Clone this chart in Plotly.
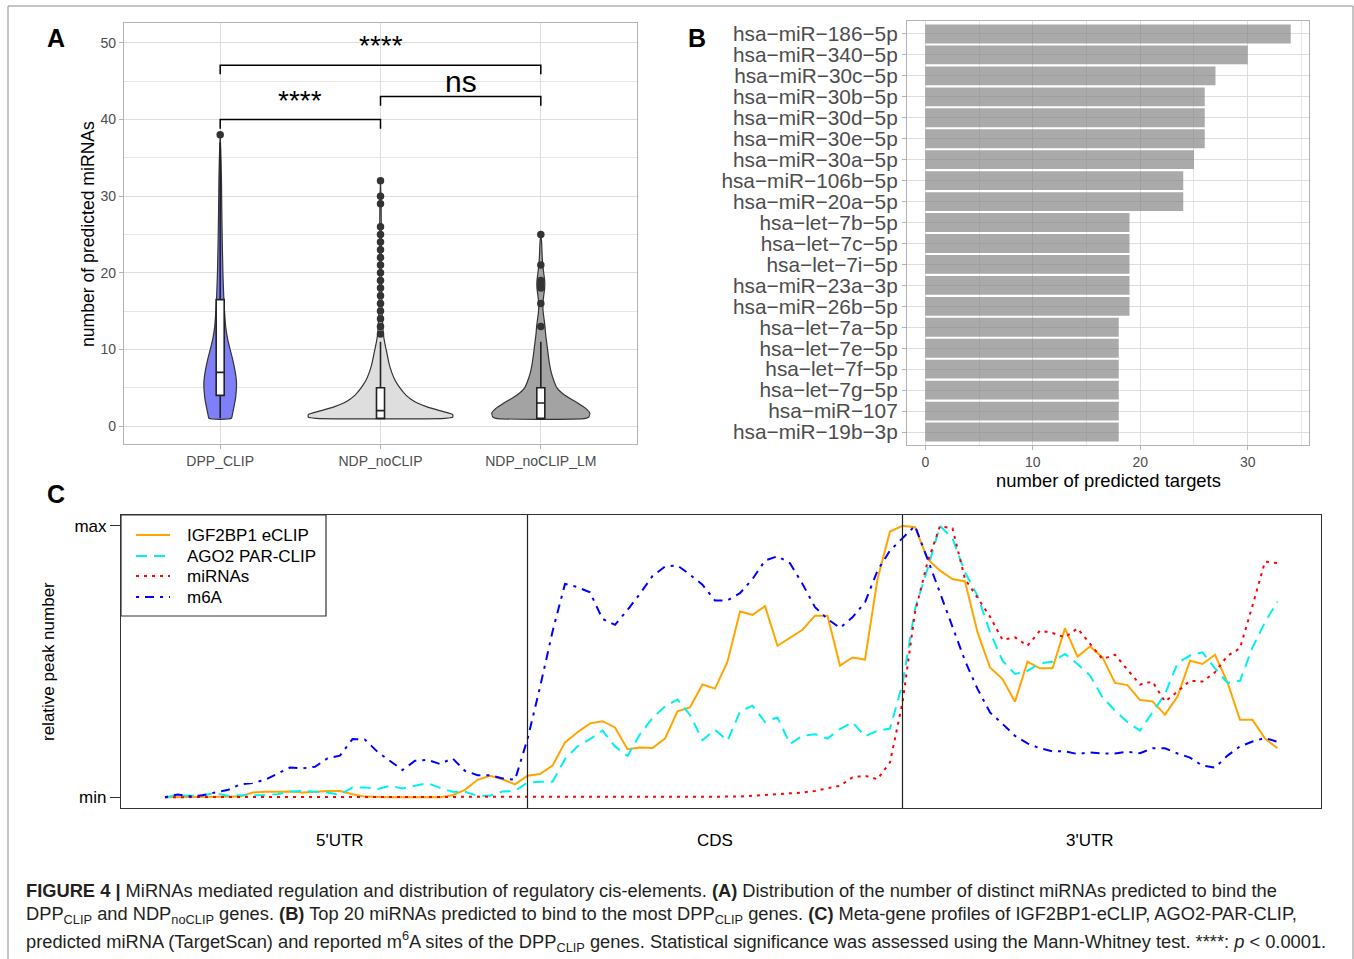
import plotly.graph_objects as go

W, H = 1354, 959
def px(x): return x / W
def py(y): return 1 - y / H

FONT = "Liberation Sans, Arial, Helvetica, sans-serif"
GREY30 = "#4D4D4D"
GRID = "#DEDEDE"
BORDER = "#B3B3B3"

# ---------------- Panel A data ----------------
groups = ["DPP_CLIP", "NDP_noCLIP", "NDP_noCLIP_LM"]
group_pos = [1, 2, 3]
violin_fill = ["#7F7FF7", "#DEDEDE", "#A3A3A3"]

dpp_levels = [1, 1.5, 2.5, 3.5, 4.5, 5.5, 6.5, 7.5, 8.5, 9.5, 10.5, 11.5, 13, 15, 17, 20, 24, 28, 32, 35, 38]
dpp_halfw = [0.07, 0.076, 0.086, 0.095, 0.1, 0.102, 0.098, 0.09, 0.08, 0.068, 0.056, 0.045, 0.034, 0.027, 0.022, 0.017, 0.013, 0.01, 0.008, 0.005, 0.0]

noclip_levels = [1, 1.15, 1.5, 2, 2.5, 3, 3.5, 4, 5, 6, 7, 8, 9, 10, 11, 12, 14, 17, 20, 25, 29, 32]
noclip_halfw = [0.40, 0.45, 0.45, 0.37, 0.29, 0.23, 0.19, 0.16, 0.12, 0.09, 0.07, 0.055, 0.045, 0.035, 0.025, 0.018, 0.012, 0.008, 0.006, 0.005, 0.004, 0.0]

lm_levels = [1, 1.2, 1.7, 2.3, 3, 3.5, 4, 5, 6, 7, 8, 9, 10, 11, 12, 13, 14, 15, 16, 17, 18, 19, 20, 21, 22, 23, 24, 25]
lm_halfw = [0.28, 0.30, 0.305, 0.28, 0.23, 0.19, 0.15, 0.10, 0.08, 0.065, 0.055, 0.048, 0.042, 0.036, 0.03, 0.026, 0.02, 0.014, 0.013, 0.018, 0.024, 0.024, 0.018, 0.012, 0.009, 0.007, 0.005, 0.0]

box_q1 = [4, 1, 1]
box_median = [7, 2, 3]
box_q3 = [16.5, 5, 5]
box_low = [1, 1, 1]
box_high = [37, 11, 11]

out_dpp = [38]
out_noclip = [12, 13, 14, 15, 16, 17, 18, 19, 20, 21, 22, 23, 24, 25, 26, 29, 30, 32]
out_lm = [13, 16, 18, 18.5, 19, 21, 25]

bracket_from = [1, 2, 1]
bracket_to = [2, 3, 3]
bracket_y = [40.0, 43.0, 47.1]
bracket_label = ["****", "ns", "****"]
bracket_label_y = [42.5, 45.0, 49.6]

# ---------------- Panel B data ----------------
mirnas = ["hsa−miR−186−5p", "hsa−miR−340−5p", "hsa−miR−30c−5p", "hsa−miR−30b−5p",
          "hsa−miR−30d−5p", "hsa−miR−30e−5p", "hsa−miR−30a−5p", "hsa−miR−106b−5p",
          "hsa−miR−20a−5p", "hsa−let−7b−5p", "hsa−let−7c−5p", "hsa−let−7i−5p",
          "hsa−miR−23a−3p", "hsa−miR−26b−5p", "hsa−let−7a−5p", "hsa−let−7e−5p",
          "hsa−let−7f−5p", "hsa−let−7g−5p", "hsa−miR−107", "hsa−miR−19b−3p"]
targets = [34, 30, 27, 26, 26, 26, 25, 24, 24, 19, 19, 19, 19, 19, 18, 18, 18, 18, 18, 18]

# ---------------- Panel C data ----------------
bins = list(range(1, 91))
igf2bp1 = [0, 0, 0, 0, 0, 0, 0.002, 0.017, 0.02, 0.02, 0.021, 0.017, 0.021, 0.023, 0.023, 0.011,
           0.002, 0, 0, 0, 0, 0, 0, 0.007, 0.027, 0.064, 0.079, 0.066, 0.047, 0.079,
           0.085, 0.116, 0.202, 0.239, 0.272, 0.28, 0.257, 0.177, 0.183, 0.181, 0.216, 0.316,
           0.331, 0.415, 0.40, 0.499, 0.684, 0.672, 0.704, 0.558, 0.589, 0.617, 0.669, 0.669,
           0.485, 0.515, 0.507, 0.804, 0.979, 1.0, 0.995, 0.878, 0.835, 0.804, 0.795, 0.608,
           0.478, 0.435, 0.352, 0.499, 0.475, 0.475, 0.622, 0.518, 0.555, 0.515, 0.421, 0.413,
           0.358, 0.353, 0.304, 0.371, 0.503, 0.491, 0.525, 0.423, 0.285, 0.285, 0.216, 0.18]
ago2 = [0, 0.007, 0.005, 0.007, 0.015, 0.005, 0.007, 0.007, 0.007, 0.011, 0.021, 0.023, 0.021,
        0.017, 0.009, 0.036, 0.036, 0.03, 0.042, 0.032, 0.042, 0.052, 0.034, 0.02, 0.02, 0.005,
        0.005, 0.021, 0.023, 0.054, 0.057, 0.057, 0.14, 0.187, 0.214, 0.245, 0.187, 0.152,
        0.232, 0.292, 0.334, 0.36, 0.303, 0.21, 0.248, 0.208, 0.315, 0.337, 0.277, 0.294,
        0.196, 0.226, 0.232, 0.216, 0.251, 0.276, 0.224, 0.245, 0.253, 0.417, 0.694, 0.841,
        1.0, 0.954, 0.829, 0.743, 0.608, 0.503, 0.454, 0.466, 0.493, 0.499, 0.528, 0.491,
        0.448, 0.368, 0.319, 0.276, 0.245, 0.312, 0.38, 0.494, 0.522, 0.534, 0.475, 0.421,
        0.429, 0.552, 0.645, 0.721]
mirna_sites = [0] * 46 + [0.002, 0.005, 0.007, 0.011, 0.014, 0.017, 0.023, 0.032, 0.042, 0.073,
               0.079, 0.066, 0.128, 0.349, 0.681, 0.866, 0.999, 0.991, 0.804, 0.735, 0.665,
               0.58, 0.589, 0.558, 0.614, 0.605, 0.589, 0.622, 0.565, 0.509, 0.525, 0.472,
               0.415, 0.426, 0.352, 0.389, 0.429, 0.426, 0.46, 0.521, 0.549, 0.706, 0.868, 0.863]
m6a = [0, 0.01, 0.003, 0.007, 0.017, 0.026, 0.047, 0.052, 0.064, 0.085, 0.109, 0.106, 0.112,
       0.143, 0.153, 0.214, 0.212, 0.167, 0.134, 0.100, 0.134, 0.138, 0.122, 0.143, 0.097,
       0.081, 0.081, 0.069, 0.064, 0.214, 0.405, 0.61, 0.786, 0.774, 0.755, 0.657, 0.635,
       0.69, 0.75, 0.815, 0.85, 0.854, 0.82, 0.783, 0.725, 0.725, 0.752, 0.804, 0.872, 0.888,
       0.862, 0.786, 0.70, 0.657, 0.624, 0.663, 0.718, 0.835, 0.909, 0.954, 1.0, 0.878,
       0.755, 0.632, 0.503, 0.399, 0.312, 0.27, 0.226, 0.198, 0.18, 0.169, 0.169, 0.159,
       0.165, 0.161, 0.161, 0.167, 0.162, 0.18, 0.18, 0.161, 0.146, 0.116, 0.109, 0.153,
       0.187, 0.205, 0.218, 0.204]

series_names = ["IGF2BP1 eCLIP", "AGO2 PAR-CLIP", "miRNAs", "m6A"]
series_colors = ["#FFA500", "#00F0F0", "#FF0000", "#0000FF"]
series_dash = ["solid", "11px,7px", "3px,5px", "3px,6px,9px,6px"]
region_names = ["5'UTR", "CDS", "3'UTR"]
region_centers = [15, 45, 75]
region_bounds = [30, 60]

fig = go.Figure()

# ---------------- Panel A traces ----------------
profiles = [(dpp_levels, dpp_halfw), (noclip_levels, noclip_halfw), (lm_levels, lm_halfw)]
for pos, (lv, hw), col in zip(group_pos, profiles, violin_fill):
    xs = [pos + w for w in hw] + [pos - w for w in reversed(hw)] + [pos + hw[0]]
    ys = list(lv) + list(reversed(lv)) + [lv[0]]
    fig.add_trace(go.Scatter(x=xs, y=ys, mode="lines", fill="toself", fillcolor=col,
                             line=dict(color="#333333", width=1.2, shape="spline", smoothing=0.6),
                             xaxis="x", yaxis="y", showlegend=False, hoverinfo="skip"))

# boxes + outliers on an overlaid copy of panel A's axes so they sit above the violins
fig.add_trace(go.Box(x=group_pos, q1=box_q1, median=box_median, q3=box_q3,
                     lowerfence=box_low, upperfence=box_high, width=0.05,
                     fillcolor="white", line=dict(color="#222222", width=1.6),
                     whiskerwidth=0, boxpoints=False, xaxis="x4", yaxis="y4", showlegend=False))

outs = [out_dpp, out_noclip, out_lm]
for pos, o in zip(group_pos, outs):
    fig.add_trace(go.Scatter(x=[pos] * len(o), y=o, mode="markers",
                             marker=dict(color="#333333", size=7.5),
                             xaxis="x4", yaxis="y4", showlegend=False))

# ---------------- Panel B traces ----------------
fig.add_trace(go.Bar(x=targets, y=mirnas, orientation="h", width=0.9,
                     marker=dict(color="rgba(128,128,128,0.67)", line=dict(width=0)),
                     xaxis="x2", yaxis="y2", showlegend=False))

# ---------------- Panel C traces ----------------
for name, vals, col, dash in zip(series_names, [igf2bp1, ago2, mirna_sites, m6a],
                                 series_colors, series_dash):
    fig.add_trace(go.Scatter(x=bins, y=vals, mode="lines", name=name,
                             line=dict(color=col, width=2, dash=dash),
                             xaxis="x3", yaxis="y3", showlegend=False))

shapes = []
annotations = []

def note(x, y, text, size, color="black", xanchor="center", yanchor="middle", xref="paper",
         yref="paper", angle=0):
    annotations.append(dict(x=x, y=y, xref=xref, yref=yref, text=text, showarrow=False,
                            xanchor=xanchor, yanchor=yanchor, textangle=angle,
                            font=dict(size=size, color=color, family=FONT)))

# brackets panel A
for a, b, yb, lab, ly in zip(bracket_from, bracket_to, bracket_y, bracket_label, bracket_label_y):
    drop = 1.2
    shapes.append(dict(type="path", xref="x", yref="y",
                       path=f"M {a},{yb - drop} L {a},{yb} L {b},{yb} L {b},{yb - drop}",
                       line=dict(color="black", width=1.5)))
    note((a + b) / 2, ly, lab, 30 if lab == "ns" else 28, xref="x", yref="y")

# panel C separators
for xb in region_bounds:
    shapes.append(dict(type="line", xref="x3", yref="y3 domain", x0=xb, x1=xb, y0=0, y1=1,
                       line=dict(color="#222222", width=1.2)))
for name, xc in zip(region_names, region_centers):
    note(xc, py(840), name, 17, xref="x3")

# panel C legend (drawn box)
shapes.append(dict(type="rect", xref="paper", yref="paper", x0=px(121), x1=px(326),
                   y0=py(616), y1=py(515), line=dict(color="#333333", width=1.2),
                   fillcolor="white", layer="above"))
leg_y = [535, 556, 576, 597]
for name, col, dash, yy in zip(series_names, series_colors, series_dash, leg_y):
    shapes.append(dict(type="line", xref="paper", yref="paper", x0=px(136), x1=px(170),
                       y0=py(yy), y1=py(yy), line=dict(color=col, width=2, dash=dash), layer="above"))
    note(px(185), py(yy), name, 17, xanchor="left")

# axis titles
note(px(88), py(234), "number of predicted miRNAs", 17.6, angle=-90)
note(px(1108), py(480), "number of predicted targets", 18.4)
note(px(48), py(662), "relative peak number", 17, angle=-90)

# panel letters
for lab, xx, yy in [("A", 56, 38), ("B", 697, 38), ("C", 56, 494)]:
    note(px(xx), py(yy), f"<b>{lab}</b>", 25)

# outer frame
for x0, y0, x1, y1 in [(8, 6, 8, 1000), (8, 6, 1353, 6), (1353, 6, 1353, 1000)]:
    shapes.append(dict(type="line", xref="paper", yref="paper", x0=px(x0), x1=px(x1),
                       y0=py(y0), y1=py(y1), line=dict(color="#8C8C8C", width=1)))

# caption
caption = [
    "<b>FIGURE 4 |</b> MiRNAs mediated regulation and distribution of regulatory cis-elements. "
    "<b>(A)</b> Distribution of the number of distinct miRNAs predicted to bind the",
    "DPP<sub>CLIP</sub> and NDP<sub>noCLIP</sub> genes. <b>(B)</b> Top 20 miRNAs predicted to bind "
    "to the most DPP<sub>CLIP</sub> genes. <b>(C)</b> Meta-gene profiles of IGF2BP1-eCLIP, AGO2-PAR-CLIP,",
    "predicted miRNA (TargetScan) and reported m<sup>6</sup>A sites of the DPP<sub>CLIP</sub> genes. "
    "Statistical significance was assessed using the Mann-Whitney test. ****: <i>p</i> &lt; 0.0001.",
]
for line, yy in zip(caption, [890, 915, 941]):
    note(px(24), py(yy), line, 18.3, color="#231F20", xanchor="left")

light_axis = dict(showline=True, mirror=True, linecolor=BORDER, linewidth=1.2,
                  ticks="outside", ticklen=4, tickcolor=BORDER, zeroline=False,
                  showgrid=True, gridcolor=GRID, gridwidth=1,
                  tickfont=dict(size=14, color=GREY30, family=FONT))

A_XRANGE = [0.4, 3.6]
A_YRANGE = [-2.35, 52.6]

fig.update_layout(
    width=W, height=H, margin=dict(l=0, r=0, t=0, b=0),
    paper_bgcolor="white", plot_bgcolor="white",
    font=dict(family=FONT),
    showlegend=False,
    xaxis=dict(domain=[px(124), px(637)], range=A_XRANGE, tickvals=group_pos, ticktext=groups,
               anchor="y", **light_axis),
    yaxis=dict(domain=[py(444), py(23)], range=A_YRANGE, tick0=0, dtick=10,
               minor=dict(dtick=5, showgrid=True, gridcolor="#E6E6E6", ticks=""),
               anchor="x", **light_axis),
    xaxis4=dict(overlaying="x", range=A_XRANGE, visible=False, anchor="y4"),
    yaxis4=dict(overlaying="y", range=A_YRANGE, visible=False, anchor="x4"),
    xaxis2=dict(domain=[px(907), px(1309)], range=[-1.7, 35.7], tick0=0, dtick=10,
                minor=dict(dtick=5, showgrid=True, gridcolor="#E6E6E6", ticks=""),
                anchor="y2", **light_axis),
    yaxis2=dict(domain=[py(445), py(21)], type="category", categoryorder="array",
                categoryarray=mirnas, tickmode="array", tickvals=mirnas, ticktext=mirnas,
                range=[19.62, -0.62], anchor="x2",
                showline=True, mirror=True, linecolor=BORDER, linewidth=1.2,
                ticks="outside", ticklen=4, tickcolor=BORDER, zeroline=False,
                showgrid=True, gridcolor=GRID,
                tickfont=dict(size=20.8, color=GREY30, family=FONT)),
    xaxis3=dict(domain=[px(121), px(1321)], range=[-2.52, 93.48], anchor="y3",
                showline=True, mirror=True, linecolor="#333333", linewidth=1.2,
                showticklabels=False, ticks="", showgrid=False, zeroline=False),
    yaxis3=dict(domain=[py(808), py(515)], range=[-0.04, 1.04], anchor="x3",
                tickvals=[0, 1], ticktext=["min", "max"],
                showline=True, mirror=True, linecolor="#333333", linewidth=1.2,
                ticks="outside", ticklen=10, tickcolor="#333333",
                showgrid=False, zeroline=False,
                tickfont=dict(size=17, color="black", family=FONT)),
    shapes=shapes, annotations=annotations,
)

fig.write_html("out.html")
